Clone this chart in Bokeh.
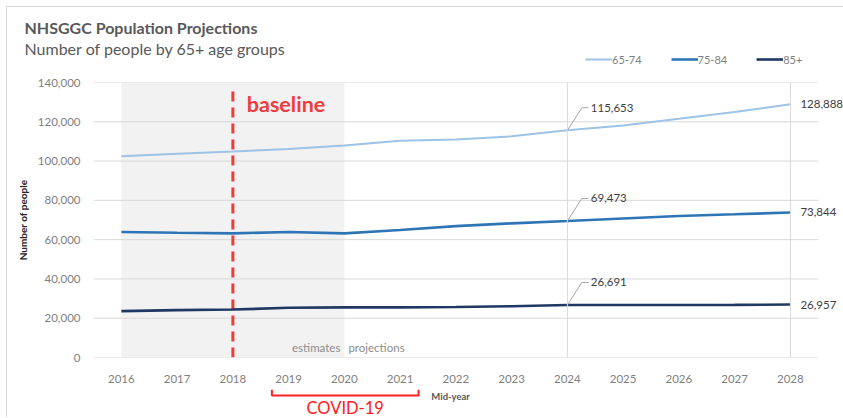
from bokeh.plotting import figure
from bokeh.layouts import column
from bokeh.models import (BoxAnnotation, Span, Label, Legend, LegendItem,
                          FixedTicker, NumeralTickFormatter, Range1d)
from bokeh.embed import file_html
from bokeh.resources import INLINE

# ---- data ----
years = [2016, 2017, 2018, 2019, 2020, 2021, 2022, 2023, 2024, 2025, 2026, 2027, 2028]
age_65_74 = [102400, 103700, 104900, 106200, 107900, 110300, 111000, 112600, 115653, 118100, 121500, 125000, 128888]
age_75_84 = [63900, 63500, 63200, 63900, 63200, 64900, 66900, 68300, 69473, 70800, 72000, 72900, 73844]
age_85p = [23600, 24100, 24400, 25300, 25500, 25500, 25700, 26100, 26691, 26700, 26750, 26800, 26957]
series = [age_65_74, age_75_84, age_85p]
series_names = ["65-74", "75-84", "85+"]
series_colors = ["#9dc3e6", "#2e75b6", "#203864"]
series_widths = [2, 2.6, 2.6]
y_ticks = [0, 20000, 40000, 60000, 80000, 100000, 120000, 140000]
estimate_start, estimate_end = 2016, 2020
baseline_year = 2018
covid_start, covid_end = 2018.7, 2021.33
label_year = 2024

FONT = "Lato"
GREY = "#595959"
W = 836
PX_PER_YEAR = 55.75
LEFT = 86
TOP_H = 68


def bare(fig):
    fig.axis.visible = False
    fig.grid.grid_line_color = None
    fig.outline_line_color = None
    fig.min_border = 0
    fig.min_border_left = 0
    fig.min_border_right = 0
    fig.min_border_top = 0
    fig.min_border_bottom = 0


# ---------------- top: titles + legend ----------------
top = figure(width=W, height=TOP_H, output_backend="svg", toolbar_location=None,
             x_range=Range1d(0, W), y_range=Range1d(TOP_H, 0))
bare(top)
top.frame_align = False
top.add_layout(Label(x=17, y=20, text="NHSGGC Population Projections", text_baseline="middle",
                     text_font=FONT, text_font_size="16px", text_font_style="bold", text_color=GREY))
top.add_layout(Label(x=17, y=41, text="Number of people  by 65+ age groups", text_baseline="middle",
                     text_font=FONT, text_font_size="16px", text_color=GREY))
# legend keys: renderers with data outside the visible range
dummies = [top.line(x=[-100, -90], y=[-100, -100], line_color=c, line_width=w)
           for c, w in zip(series_colors, series_widths)]
legend = Legend(items=[LegendItem(label=n, renderers=[r]) for n, r in zip(series_names, dummies)],
                orientation="horizontal", location=(578, 8), padding=0, margin=0, spacing=29,
                glyph_width=27, glyph_height=16, label_standoff=0, label_height=16,
                label_text_font=FONT, label_text_font_size="11px", label_text_color="#7f7f7f",
                border_line_color=None, background_fill_alpha=0)
top.add_layout(legend, "center")

# ---------------- main chart ----------------
x_end = 2015.5 + (W - LEFT) / PX_PER_YEAR
p = figure(width=W, height=314, output_backend="svg", toolbar_location=None,
           x_range=Range1d(2015.5, x_end), y_range=Range1d(0, 140000),
           min_border_left=LEFT, min_border_right=0, min_border_top=7, min_border_bottom=32)
p.outline_line_color = None

p.xaxis.ticker = FixedTicker(ticks=years)
p.yaxis.ticker = FixedTicker(ticks=y_ticks)
p.yaxis.formatter = NumeralTickFormatter(format="0,0")
for ax in (p.xaxis[0], p.yaxis[0]):
    ax.axis_line_color = None
    ax.major_tick_line_color = None
    ax.minor_tick_line_color = None
    ax.major_tick_out = 0
    ax.major_tick_in = 0
    ax.major_label_text_font = FONT
    ax.major_label_text_font_size = "11.5px"
    ax.major_label_text_color = "#7f7f7f"
p.xaxis.major_label_standoff = 17
p.yaxis.major_label_standoff = 13
p.yaxis.axis_label = "Number of people"
p.yaxis.axis_label_text_font = FONT
p.yaxis.axis_label_text_font_size = "10px"
p.yaxis.axis_label_text_font_style = "bold"
p.yaxis.axis_label_text_color = "#262626"
p.yaxis.axis_label_standoff = 6
p.grid.grid_line_color = None

# shaded estimates region (under grid lines)
p.add_layout(BoxAnnotation(left=estimate_start, right=estimate_end, fill_color="#f2f2f2",
                           fill_alpha=1, line_color=None, level="underlay"))
# horizontal grid lines spanning the category area only
p.segment(x0=[2015.5] * len(y_ticks), y0=y_ticks, x1=[2028.5] * len(y_ticks), y1=y_ticks,
          line_color="#d9d9d9", line_width=1)
# vertical grid lines at label year and final year
for yr in (label_year, years[-1]):
    p.add_layout(Span(location=yr, dimension="height", line_color="#d9d9d9", line_width=1))

# baseline
p.segment(x0=[baseline_year], y0=[0], x1=[baseline_year], y1=[136000], line_color="#f03c3c",
          line_width=3, line_dash="10 6")
p.add_layout(Label(x=baseline_year + 0.25, y=129300, text="baseline", text_color="#f03c3c",
                   text_font=FONT, text_font_size="21.5px", text_font_style="bold",
                   text_baseline="middle"))

for vals, c, w in zip(series, series_colors, series_widths):
    p.line(years, vals, line_color=c, line_width=w)

# data labels at label year (with leader lines) and at last year
i24 = years.index(label_year)
lx, ly = [], []
for vals in series:
    v = vals[i24]
    lx.append([label_year, label_year + 0.26, label_year + 0.38])
    ly.append([v, v + 11500, v + 11500])
    p.add_layout(Label(x=label_year + 0.42, y=v + 11500, text=f"{v:,}", text_baseline="middle",
                       text_font=FONT, text_font_size="11.5px", text_color="#404040"))
    ve = vals[-1]
    p.add_layout(Label(x=years[-1], y=ve, x_offset=10, text=f"{ve:,}", text_baseline="middle",
                       text_font=FONT, text_font_size="11.5px", text_color="#404040"))
p.multi_line(lx, ly, line_color="#a6a6a6", line_width=1)

# estimates / projections
p.add_layout(Label(x=estimate_end, y=5100, x_offset=-4, text="estimates", text_align="right",
                   text_baseline="middle", text_font=FONT, text_font_size="11.5px", text_color="#8c8c8c"))
p.add_layout(Label(x=estimate_end, y=5100, x_offset=4, text="projections", text_align="left",
                   text_baseline="middle", text_font=FONT, text_font_size="11.5px", text_color="#8c8c8c"))

# ---------------- bottom: COVID bracket ----------------
bot = figure(width=W, height=28, output_backend="svg", toolbar_location=None,
             x_range=p.x_range, y_range=Range1d(28, 0))
bare(bot)
bot.min_border_left = LEFT
bot.multi_line([[covid_start, covid_start, covid_end, covid_end]], [[0, 6, 6, 0]],
               line_color="#ff2020", line_width=2)
bot.add_layout(Label(x=(covid_start + covid_end) / 2, y=18, text="COVID-19", text_align="center",
                     text_baseline="middle", text_font=FONT, text_font_size="16.5px", text_color="#ff2020"))
bot.add_layout(Label(x=covid_end + 0.23, y=7, text="Mid-year", text_baseline="middle",
                     text_font=FONT, text_font_size="9.5px", text_font_style="bold", text_color=GREY))

layout = column(top, p, bot, spacing=0, margin=(6, 0, 0, 6),
                styles={"border-left": "1px solid #d9d9d9", "border-top": "1px solid #d9d9d9"})

open("out.html", "w").write(file_html(layout, INLINE))
